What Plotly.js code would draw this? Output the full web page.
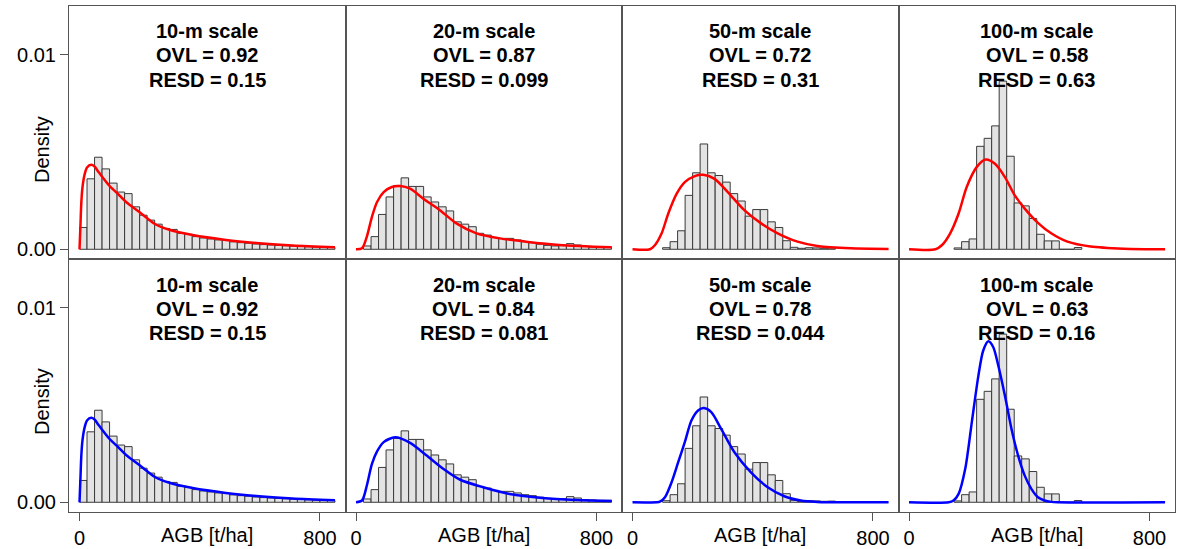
<!DOCTYPE html>
<html>
<head>
<meta charset="utf-8">
<script src="https://cdn.plot.ly/plotly-3.0.1.min.js"></script>
<style>html,body{margin:0;padding:0;background:#fff;}#chart{width:1178px;height:549px;}</style>
</head>
<body>
<div id="chart"></div>
<script>
// ---------- data ----------
const scaleLabels = ['10-m scale', '20-m scale', '50-m scale', '100-m scale'];
const ovlTop = ['0.92', '0.87', '0.72', '0.58'];
const resdTop = ['0.15', '0.099', '0.31', '0.63'];
const ovlBottom = ['0.92', '0.84', '0.78', '0.63'];
const resdBottom = ['0.15', '0.081', '0.044', '0.16'];

const yTickVals = [0, 0.01];
const yTickText = ['0.00', '0.01'];
const xTickVals = [0, 800];
const xTickText = ['0', '800'];

// histogram bin starts (t/ha), bin width 25
const binStart = [0,25,50,75,100,125,150,175,200,225,250,275,300,325,350,375,400,425,450,475,500,525,550,575,600,625,650,675,700,725,750,775,800,825];

// observed density per bin
const hist10 = [0.00112,0.00362,0.00473,0.00413,0.00340,0.00294,0.00286,0.00218,0.00175,0.00150,0.00129,0.00107,0.00102,0.00082,0.00077,0.00065,0.00058,0.00053,0.00048,0.00046,0.00038,0.00034,0.00031,0.00027,0.00024,0.00022,0.00020,0.00018,0.00016,0.00014,0.00013,0.00011,0.00010,0.00009];
const hist20 = [null,0.00017,0.00065,0.00179,0.00269,0.00328,0.00367,0.00323,0.00323,0.00269,0.00243,0.00218,0.00197,0.00141,0.00129,0.00116,0.00082,0.00073,0.00061,0.00056,0.00056,0.00048,0.00039,0.00034,0.00026,0.00020,0.00017,0.00019,0.00029,0.00022,0.00014,0.00012,0.00010,0.00010];
const hist50 = [null,null,null,null,0.00008,0.00039,0.00095,0.00277,0.00393,0.00541,0.00393,0.00379,0.00345,0.00286,0.00248,0.00170,0.00204,0.00204,0.00141,0.00112,0.00044,0.00010,0.00005,0.00008,0.00007,0.00005,0.00006,null,null,null,null,null,null,null];
const hist100 = [null,null,null,null,null,null,0.00007,0.00039,0.00053,0.00529,0.00570,0.00634,0.00864,0.00478,0.00238,0.00223,0.00158,0.00077,0.00043,0.00043,0,0,0.00009,null,null,null,null,null,null,null,null,null,null,null];

// fitted density curves
const curve10X = [0,3,6,10,17,25,39,50,62,74,100,127,155,199,251,299,376,487,598,708,850];
const curve10Y = [0,0.0012,0.0024,0.0032,0.00385,0.0042,0.00434,0.00425,0.0040,0.00375,0.00325,0.00286,0.00243,0.00192,0.0013,0.0010,0.00073,0.00048,0.00031,0.00019,0.0001];

const red20X = [0,20,36,53,70,92,119,147,180,224,279,334,401,478,566,677,851];
const red20Y = [0,0.00005,0.00065,0.00167,0.00243,0.00294,0.0032,0.00325,0.00311,0.0026,0.00201,0.00133,0.00082,0.00056,0.00039,0.00022,0.0001];
const blue20X = [0,20,36,53,70,92,130,180,235,290,345,423,511,621,732,851];
const blue20Y = [0,0.00009,0.00086,0.00197,0.00261,0.00309,0.00334,0.00305,0.0024,0.00172,0.00117,0.00077,0.00043,0.00022,0.00012,0.00007];

const red50X = [0,58,75,97,119,147,174,207,235,273,317,372,428,483,549,615,725,852];
const red50Y = [0,0,0.00022,0.00082,0.00184,0.00286,0.00345,0.00376,0.00383,0.00362,0.00294,0.00201,0.00133,0.00082,0.00039,0.00017,0.00005,0.00002];
const blue50X = [0,80,91,108,130,152,174,196,218,238,262,295,339,394,450,505,560,615,725,852];
const blue50Y = [0,0,0.00003,0.00026,0.00103,0.00206,0.00309,0.0042,0.00472,0.00484,0.00463,0.00377,0.00257,0.00154,0.00077,0.00031,0.00009,0.00002,0,0];

const red100X = [0,88,110,137,165,192,225,255,286,319,352,385,429,473,527,604,714,852];
const red100Y = [0,0,0.00022,0.00082,0.00184,0.0032,0.00422,0.00461,0.00439,0.00371,0.00277,0.00209,0.00136,0.00082,0.00039,0.00014,0.00003,0];
const blue100X = [0,132,148,165,187,209,231,247,264,280,297,319,341,363,385,407,429,451,473,495,852];
const blue100Y = [0,0,0.00009,0.00043,0.00172,0.00412,0.00652,0.0078,0.00827,0.00798,0.00703,0.00549,0.00377,0.0024,0.00137,0.00069,0.00026,0.00009,0.00002,0,0];

// ---------- build ----------
const hists = [hist10, hist20, hist50, hist100];
const redCurves = [[curve10X, curve10Y], [red20X, red20Y], [red50X, red50Y], [red100X, red100Y]];
const blueCurves = [[curve10X, curve10Y], [blue20X, blue20Y], [blue50X, blue50Y], [blue100X, blue100Y]];

const FONT = 'Liberation Sans, Arial, sans-serif';
const frameColor = '#555555';
const W = 1178, H = 549;
const mL = 69, mR = 3, mT = 6, mB = 37;
const plotH = H - mT - mB;
const rowH = plotH / 2;

const traces = [];
const layout = {
  width: W, height: H,
  margin: {l: mL, r: mR, t: mT, b: mB},
  paper_bgcolor: '#ffffff', plot_bgcolor: '#ffffff',
  showlegend: false,
  font: {family: FONT, color: '#000000', size: 20},
  annotations: []
};

for (let row = 0; row < 2; row++) {
  for (let col = 0; col < 4; col++) {
    const n = row * 4 + col + 1;
    const sfx = n === 1 ? '' : String(n);
    const xa = 'x' + sfx, ya = 'y' + sfx;

    traces.push({
      type: 'bar', x: binStart, y: hists[col], width: 25, offset: 0,
      xaxis: xa, yaxis: ya,
      marker: {color: '#e3e3e3', line: {color: '#3a3a3a', width: 1}},
      hoverinfo: 'skip'
    });
    const c = row === 0 ? redCurves[col] : blueCurves[col];
    traces.push({
      type: 'scatter', mode: 'lines', x: c[0], y: c[1],
      xaxis: xa, yaxis: ya,
      line: {color: row === 0 ? '#ff0000' : '#0000ff', width: 2.5, shape: 'spline', smoothing: 0.8},
      hoverinfo: 'skip'
    });

    const yDom = row === 0 ? [0.5, 1] : [0, 0.5];
    const xDom = [col * 0.25, (col + 1) * 0.25];
    layout['xaxis' + sfx] = {
      domain: xDom, range: [-35, 885], anchor: ya,
      showgrid: false, zeroline: false,
      showline: true, mirror: true, linecolor: frameColor, linewidth: 1,
      tickvals: xTickVals, ticktext: xTickText,
      ticks: row === 1 ? 'outside' : '', ticklen: 8, tickcolor: frameColor,
      showticklabels: row === 1,
      tickfont: {family: FONT, size: 20, color: '#000'}
    };
    layout['yaxis' + sfx] = {
      domain: yDom, range: [-0.0005, 0.0125], anchor: xa,
      showgrid: false, zeroline: false,
      showline: true, mirror: true, linecolor: frameColor, linewidth: 1,
      tickvals: yTickVals, ticktext: yTickText,
      ticks: col === 0 ? 'outside' : '', ticklen: 8, tickcolor: frameColor,
      showticklabels: col === 0,
      tickfont: {family: FONT, size: 20, color: '#000'}
    };

    const lines = [scaleLabels[col],
      'OVL = ' + (row === 0 ? ovlTop[col] : ovlBottom[col]),
      'RESD = ' + (row === 0 ? resdTop[col] : resdBottom[col])];
    const offs = [25.5, 49.5, 74];
    lines.forEach((t, k) => {
      layout.annotations.push({
        xref: xa + ' domain', yref: ya + ' domain',
        x: 0.5, y: 1 - offs[k] / rowH, xanchor: 'center', yanchor: 'middle',
        text: '<b>' + t + '</b>', showarrow: false,
        font: {family: FONT, size: 20, color: '#000'}
      });
    });

    if (row === 1) {
      layout.annotations.push({
        xref: xa + ' domain', yref: 'paper',
        x: 0.5, y: -(535 - (H - mB)) / plotH, xanchor: 'center', yanchor: 'middle',
        text: 'AGB [t/ha]', showarrow: false,
        font: {family: FONT, size: 20, color: '#000'}
      });
    }
    if (col === 0) {
      const yc = row === 0 ? 150 : 402;
      layout.annotations.push({
        xref: 'paper', yref: 'paper',
        x: (42 - mL) / (W - mL - mR), y: 1 - (yc - mT) / plotH,
        xanchor: 'center', yanchor: 'middle', textangle: -90,
        text: 'Density', showarrow: false,
        font: {family: FONT, size: 20, color: '#000'}
      });
    }
  }
}

Plotly.newPlot('chart', traces, layout, {staticPlot: true, displayModeBar: false});
</script>
</body>
</html>
